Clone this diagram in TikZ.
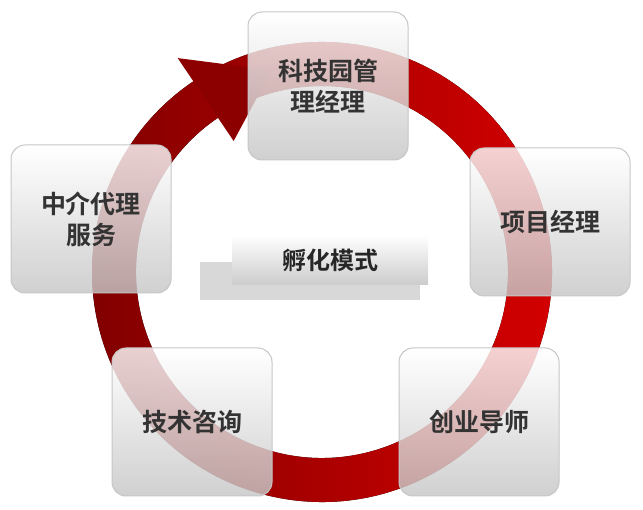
\documentclass[tikz,border=0pt]{standalone}
\usepackage{fontspec}
\setmainfont{Noto Sans CJK SC}[BoldFont={Noto Sans CJK SC Bold}]
\usetikzlibrary{shadows,calc}
\begin{document}
\begin{tikzpicture}[x=1pt,y=-1pt,
  box/.style={rounded corners=14pt,draw=gray!45,line width=1pt,top color=white,bottom color=gray!45,fill opacity=0.82,text opacity=1,minimum width=160pt,minimum height=148pt,align=center,font=\bfseries\fontsize{25}{31}\selectfont,text=black!80},
  ring/.style={left color=red!50!black,right color=red!85!black,draw=none}]
\useasboundingbox (0,0) rectangle (643,510);
\coordinate (c) at (322,272);
\fill[ring] ($(c)+(-122:230)$) arc[start angle=-122,end angle=258,radius=230] -- ($(c)+(258:186)$) arc[start angle=258,end angle=-122,radius=186] -- cycle;
\fill[red!55!black] ($(c)+(-124:258)$) -- ($(c)+(-104:208)$) -- ($(c)+(-124:158)$) -- cycle;
\node[box] (a) at (328,86) {科技园管\\理经理};
\node[box] (b) at (550,222) {项目经理};
\node[box] (d) at (479,422) {创业导师};
\node[box] (e) at (192,422) {技术咨询};
\node[box] (f) at (91,219) {中介代理\\服务};
\fill[gray!60,opacity=0.5] (200,262) rectangle (420,300);
\node[top color=white,bottom color=gray!40,minimum width=196pt,minimum height=50pt,font=\bfseries\fontsize{24}{30}\selectfont,text=black!85] (m) at (330,260) {孵化模式};
\end{tikzpicture}
\end{document}
